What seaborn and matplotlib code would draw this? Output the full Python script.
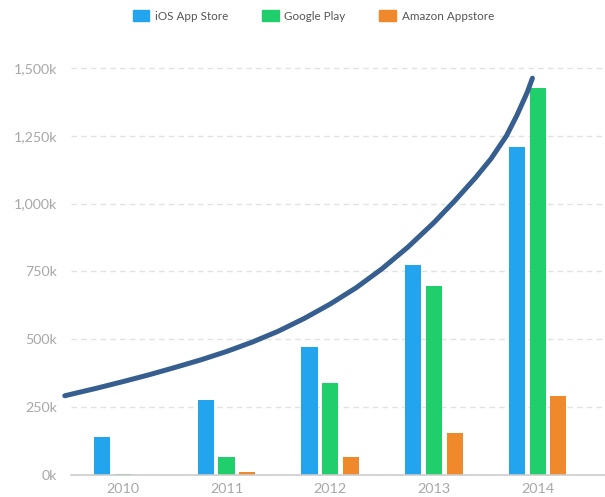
import pandas as pd
import matplotlib.pyplot as plt
import seaborn as sns

# values in thousands of apps
years = ['2010', '2011', '2012', '2013', '2014']
ios = [140, 275, 470, 775, 1210]
google = [5, 68, 340, 695, 1425]
amazon = [0, 12, 65, 155, 290]
stores = ['iOS App Store', 'Google Play', 'Amazon Appstore']

# trend line (x in category units, y in thousands)
trend_x = [-0.56, -0.25, 0.0, 0.25, 0.5, 0.75, 1.0, 1.25, 1.5, 1.75, 2.0,
           2.25, 2.5, 2.75, 3.0, 3.2, 3.4, 3.55, 3.7, 3.8, 3.9, 3.95]
trend_y = [292, 320, 344, 369, 396, 424, 455, 490, 530, 577, 630,
           690, 760, 840, 930, 1010, 1095, 1165, 1250, 1325, 1410, 1462]

colors = ['#22a4ef', '#20cf6c', '#f0882c']

df = pd.DataFrame({
    'year': years * 3,
    'store': [s for s in stores for _ in years],
    'apps': ios + google + amazon,
})

sns.set_style('white')
plt.rcParams['font.family'] = ['Lato', 'DejaVu Sans']

fig = plt.figure(figsize=(6.05, 4.97), dpi=100)
ax = fig.add_axes([71 / 605, 22 / 497, 1 - 71 / 605, (475 - 50) / 497])

sns.barplot(data=df, x='year', y='apps', hue='store', palette=colors,
            width=0.6, gap=0.22, linewidth=0, saturation=1, ax=ax,
            legend=False)

ax.plot(trend_x, trend_y, color='#365f8f', lw=3.6, solid_capstyle='round',
        solid_joinstyle='round', zorder=5, clip_on=False)

ax.set_xlim(-0.5, 4.65)
ax.set_ylim(0, 1566)
ticks = [0, 250, 500, 750, 1000, 1250, 1500]
ax.set_yticks(ticks)
ax.set_yticklabels([f'{t:,}k' for t in ticks])
ax.yaxis.grid(True, color='#e2e2e2', linestyle=(0, (4, 3)), linewidth=1)
ax.set_axisbelow(True)

for s in ['top', 'right', 'left']:
    ax.spines[s].set_visible(False)
ax.spines['bottom'].set_color('#cccccc')
ax.spines['bottom'].set_linewidth(1.2)

ax.tick_params(axis='y', length=0, pad=10, labelsize=10.3, labelcolor='#a8a8a8')
ax.tick_params(axis='x', length=0, pad=6, labelsize=10.4, labelcolor='#a8a8a8')
ax.set_xlabel('')
ax.set_ylabel('')

handles = [plt.Rectangle((0, 0), 1, 1, color=c) for c in colors]
fig.legend(handles, stores, loc='upper left', bbox_to_anchor=(122 / 605, 1.0),
           ncol=3, frameon=False, fontsize=8.4, handlelength=1.45,
           handleheight=1.0, columnspacing=2.85, handletextpad=0.5,
           labelcolor='#555555')

fig.savefig('out.png', dpi=100)
